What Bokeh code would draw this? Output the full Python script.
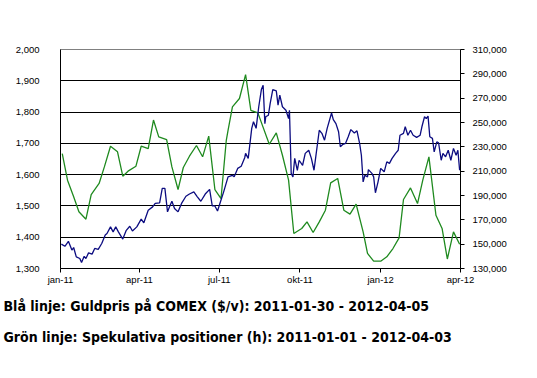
from bokeh.plotting import figure
from bokeh.models import Range1d, LinearAxis, FixedTicker, NumeralTickFormatter, Title
from bokeh.embed import file_html
from bokeh.resources import INLINE

# x positions are days since 2011-01-01
month_days = [0, 90, 181, 273, 365, 456]
month_labels = ["jan-11", "apr-11", "jul-11", "okt-11", "jan-12", "apr-12"]

left_ticks = [1300, 1400, 1500, 1600, 1700, 1800, 1900, 2000]
right_ticks = [130000, 150000, 170000, 190000, 210000, 230000, 250000, 270000, 290000, 310000]

# Blue: gold price on COMEX ($/oz), left axis
gold_day = [1, 5, 9, 13, 15, 18, 22, 24, 27, 29, 32, 36, 39, 43, 47, 51, 53, 57, 60, 63,
            66, 71, 75, 79, 82, 87, 92, 95, 100, 105, 108, 113, 116, 119, 122, 125, 127, 130, 134, 138,
            143, 147, 152, 156, 160, 165, 170, 173, 176, 179, 182, 186, 191, 196, 198, 202, 206, 210, 211, 214,
            218, 220, 223, 226, 229, 231, 233, 234, 237, 239, 242, 246, 248, 250, 253, 257, 260, 261, 263, 265,
            267, 270, 272, 276, 279, 283, 286, 289, 291, 295, 298, 301, 304, 309, 311, 314, 317, 319, 322, 325,
            328, 331, 335, 338, 341, 343, 345, 347, 350, 351, 355, 357, 359, 362, 365, 369, 372, 375, 378, 382,
            385, 387, 391, 393, 396, 399, 402, 406, 410, 412, 415, 417, 419, 421, 424, 426, 429, 431, 434, 436,
            439, 442, 445, 448, 451, 453, 455]
gold_price = [1378, 1371, 1387, 1359, 1367, 1337, 1332, 1319, 1339, 1332, 1350, 1346, 1364, 1361, 1380, 1407, 1412, 1433, 1417, 1433,
              1417, 1394, 1422, 1435, 1420, 1433, 1458, 1446, 1486, 1497, 1508, 1510, 1556, 1556, 1481, 1502, 1515, 1492, 1481, 1508,
              1531, 1538, 1545, 1529, 1515, 1538, 1553, 1500, 1500, 1484, 1510, 1545, 1593, 1598, 1593, 1620, 1627, 1654, 1668, 1652,
              1748, 1769, 1748, 1817, 1872, 1886, 1763, 1785, 1790, 1827, 1872, 1868, 1822, 1854, 1817, 1806, 1779, 1806, 1604, 1593,
              1652, 1614, 1646, 1630, 1668, 1678, 1652, 1614, 1657, 1742, 1732, 1710, 1748, 1797, 1776, 1763, 1737, 1689, 1697, 1700,
              1721, 1744, 1733, 1740, 1700, 1662, 1577, 1598, 1593, 1616, 1604, 1593, 1542, 1577, 1620, 1609, 1641, 1636, 1652, 1668,
              1678, 1726, 1732, 1753, 1726, 1742, 1726, 1719, 1726, 1753, 1785, 1779, 1787, 1721, 1716, 1673, 1705, 1702, 1646, 1668,
              1657, 1678, 1646, 1684, 1662, 1678, 1614]

# Green: speculative positions (contracts), right axis
spec_day = [2, 8, 15, 21, 29, 35, 44, 50, 57, 65, 71, 77, 86, 92, 100, 106, 112, 121, 127, 134,
            140, 147, 155, 162, 169, 176, 183, 189, 191, 196, 204, 211, 217, 225, 238, 246, 253, 260, 266, 275,
            281, 288, 295, 302, 308, 316, 323, 330, 337, 345, 350, 357, 365, 372, 379, 386, 391, 399, 407, 413,
            420, 428, 435, 441, 448, 455]
spec_pos = [224500, 202600, 188900, 176600, 170500, 190800, 199900, 213500, 230500, 225900,
            205900, 210000, 214100, 230500, 228600, 252000, 238200, 236000, 213500, 194900,
            213000, 222300, 231100, 221800, 238800, 194900, 187500, 235400, 243600, 262800,
            269700, 289400, 260000, 257900, 232100, 241500, 223100, 202600, 158800, 162900,
            168300, 159600, 168300, 177900, 200400, 204000, 177900, 174700, 182900, 160100,
            142400, 136000, 136000, 139600, 146400, 155200, 186700, 196200, 183400, 202600,
            221800, 173800, 162900, 137800, 160100, 150000]

caption_blue = "Blå linje: Guldpris på COMEX ($/v): 2011-01-30 - 2012-04-05"
caption_green = "Grön linje: Spekulativa positioner (h): 2011-01-01 - 2012-04-03"

AX_FONT = "Liberation Sans"
CAP_FONT = "'DejaVu Sans Condensed', Roboto"

p = figure(width=529, height=350, output_backend="svg", toolbar_location=None,
           x_range=Range1d(0, 456), y_range=Range1d(1300, 2000),
           min_border_left=60, min_border_right=69, min_border_top=49, min_border_bottom=20,
           background_fill_color="white", border_fill_color="white")
p.outline_line_color = "#808080"
p.outline_line_width = 1
p.xgrid.visible = False
p.ygrid.ticker = FixedTicker(ticks=left_ticks[1:-1])
p.ygrid.grid_line_color = "black"
p.ygrid.grid_line_width = 1

# left axis
ya = p.yaxis[0]
ya.ticker = FixedTicker(ticks=left_ticks)
ya.formatter = NumeralTickFormatter(format="0,0")
ya.major_tick_out = 0
ya.major_tick_in = 0
ya.minor_tick_out = 0
ya.minor_tick_in = 0
ya.major_label_standoff = 21
ya.axis_line_color = "black"
ya.major_label_text_font = AX_FONT
ya.major_label_text_font_size = "9.5px"
ya.major_label_text_color = "black"

# bottom axis
xa = p.xaxis[0]
xa.ticker = FixedTicker(ticks=month_days)
xa.major_label_overrides = {d: lab for d, lab in zip(month_days, month_labels)}
xa.major_tick_out = 4
xa.major_tick_in = 0
xa.minor_tick_out = 0
xa.minor_tick_in = 0
xa.major_label_standoff = 1
xa.axis_line_color = "black"
xa.major_label_text_font = AX_FONT
xa.major_label_text_font_size = "9.5px"
xa.major_label_text_color = "black"

# right axis
p.extra_y_ranges = {"pos": Range1d(130000, 310000)}
ra = LinearAxis(y_range_name="pos", ticker=FixedTicker(ticks=right_ticks),
                formatter=NumeralTickFormatter(format="0,0"))
ra.major_tick_out = 4
ra.major_tick_in = 0
ra.minor_tick_out = 0
ra.minor_tick_in = 0
ra.major_label_standoff = 8
ra.axis_line_color = "black"
ra.major_label_text_font = AX_FONT
ra.major_label_text_font_size = "9.5px"
ra.major_label_text_color = "black"
p.add_layout(ra, "right")

p.line(spec_day, spec_pos, y_range_name="pos", line_color="#1f8a1f", line_width=1.3)
p.line(gold_day, gold_price, line_color="#0c0c80", line_width=1.3)

for txt, so in [(caption_blue, 16), (caption_green, 11)]:
    t = Title(text=txt, align="left", offset=-57, text_font=CAP_FONT, text_font_size="14px",
              text_font_style="bold", text_color="black", standoff=so)
    p.add_layout(t, "below")

open("out.html", "w").write(file_html(p, INLINE))
